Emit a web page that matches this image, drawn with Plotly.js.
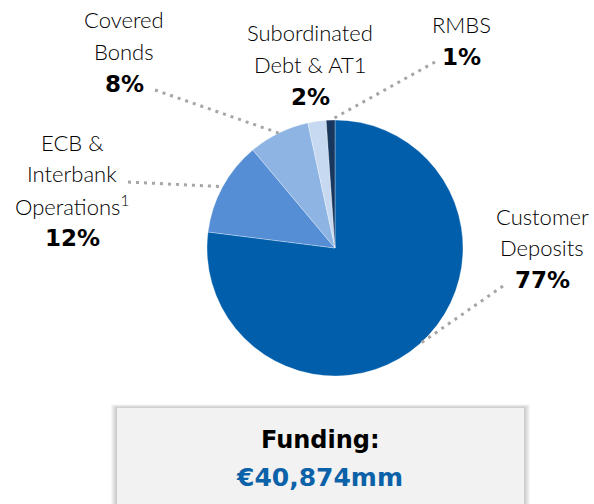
<!DOCTYPE html>
<html>
<head>
<meta charset="utf-8">
<script src="https://cdn.plot.ly/plotly-3.0.1.min.js"></script>
<style>html,body{margin:0;padding:0;background:#fff;}#chart{width:594px;height:504px;}</style>
</head>
<body>
<div id="chart"></div>
<script>
// ---- data ----
const categories = ["Customer Deposits", "ECB & Interbank Operations", "Covered Bonds", "Subordinated Debt & AT1", "RMBS"];
const values = [77.0, 11.9, 7.7, 2.3, 1.1];
const pctLabels = ["77%", "12%", "8%", "2%", "1%"];
const nameLines = [["Customer", "Deposits"], ["ECB &", "Interbank", "Operations<sup>1</sup>"], ["Covered", "Bonds"], ["Subordinated", "Debt & AT1"], ["RMBS"]];
const colors = ["#005EAB", "#558ED5", "#8DB4E2", "#C6D9F1", "#17375E"];
const totalText = ["Funding:", "€40,874mm"];

// ---- layout constants ----
const W = 594, H = 504;
const cx = 335, cy = 248, R = 128;
const FONT = "Lato, 'Open Sans', sans-serif";
const BOLD = "'DejaVu Sans', sans-serif";
// label block positions (px): center x, y of first line, line spacing
const labelPos = [
  {x: 542, y: 216}, {x: 72, y: 142}, {x: 124, y: 20}, {x: 310, y: 33}, {x: 461, y: 24}
];
const LINE = 31.5;
// outer end of leader line (px), null = no line
const leaderEnd = [[503, 286], [128, 182], [155, 90], null, [435, 62]];

const px = x => x / W, py = y => 1 - y / H;

const trace = {
  type: "pie",
  labels: categories,
  values: values,
  sort: false,
  direction: "clockwise",
  rotation: 0,
  textinfo: "none",
  hoverinfo: "label+percent",
  marker: {colors: colors, line: {color: "rgba(255,255,255,0.6)", width: 0.5}},
  domain: {x: [px(cx - R), px(cx + R)], y: [py(cy + R), py(cy - R)]}
};

const annotations = [];
const shapes = [];

// box with soft shadow
const bx0 = 117, bx1 = 524, by0 = 408, by1 = 520;
for (let k = 6; k >= 1; k--) {
  shapes.push({type: "rect", xref: "paper", yref: "paper", layer: "below",
    x0: px(bx0 - k), x1: px(bx1 + k), y0: py(by1), y1: py(by0 - k * 0.6),
    fillcolor: "rgba(0,0,0,0.035)", line: {width: 0}});
}
shapes.push({type: "rect", xref: "paper", yref: "paper", layer: "below",
  x0: px(bx0), x1: px(bx1), y0: py(by1), y1: py(by0),
  fillcolor: "#F2F2F2", line: {width: 0}});

annotations.push({xref: "paper", yref: "paper", x: px(320), y: py(440), text: totalText[0],
  showarrow: false, xanchor: "center", yanchor: "middle", font: {family: BOLD, size: 24, weight: 700, color: "#000000"}});
annotations.push({xref: "paper", yref: "paper", x: px(319), y: py(477), text: totalText[1],
  showarrow: false, xanchor: "center", yanchor: "middle", font: {family: BOLD, size: 25, weight: 700, color: "#0B62A8"}});

// labels and leader lines
const total = values.reduce((a, b) => a + b, 0);
let cum = 0;
values.forEach((v, i) => {
  const mid = (cum + v / 2) / total;
  cum += v;
  const th = 2 * Math.PI * mid;
  const ex = cx + R * Math.sin(th), ey = cy - R * Math.cos(th);
  if (leaderEnd[i]) {
    shapes.push({type: "line", xref: "paper", yref: "paper",
      x0: px(leaderEnd[i][0]), y0: py(leaderEnd[i][1]), x1: px(ex), y1: py(ey),
      line: {color: "#A6A6A6", width: 3, dash: "3px,5px"}});
  }
  const lp = labelPos[i];
  const lines = nameLines[i];
  lines.forEach((t, j) => {
    annotations.push({xref: "paper", yref: "paper", x: px(lp.x), y: py(lp.y + j * LINE), text: t,
      showarrow: false, xanchor: "center", yanchor: "middle", font: {family: FONT, size: 22, weight: 300, color: "#000000"}});
  });
  annotations.push({xref: "paper", yref: "paper", x: px(lp.x), y: py(lp.y + lines.length * LINE + 1), text: pctLabels[i],
    showarrow: false, xanchor: "center", yanchor: "middle", font: {family: BOLD, size: 23, weight: 700, color: "#000000"}});
});

const layout = {
  width: W, height: H,
  margin: {l: 0, r: 0, t: 0, b: 0},
  paper_bgcolor: "#ffffff",
  showlegend: false,
  shapes: shapes,
  annotations: annotations
};

Plotly.newPlot("chart", [trace], layout, {staticPlot: true, displayModeBar: false});
</script>
</body>
</html>
